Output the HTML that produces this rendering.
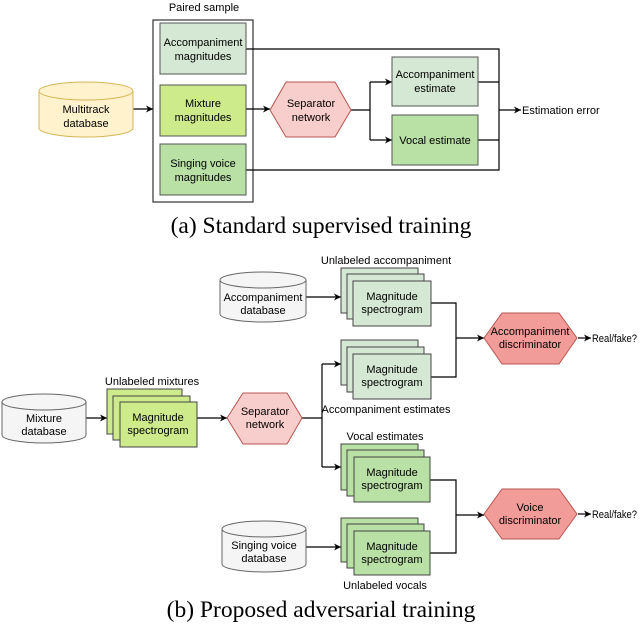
<!DOCTYPE html>
<html><head><meta charset="utf-8"><style>
html,body{margin:0;padding:0;background:#fff}
svg{display:block}
text{font-family:"Liberation Sans",Arial,sans-serif;font-size:11px;fill:#000}
.cap{font-family:"Liberation Serif",serif;font-size:23.5px}
</style></head><body>
<svg width="640" height="627" viewBox="0 0 640 627" xmlns="http://www.w3.org/2000/svg">
<defs>
<marker id="a" markerWidth="8" markerHeight="8" refX="7" refY="4" orient="auto" markerUnits="userSpaceOnUse">
<path d="M0,0.5 L7,4 L0,7.5 L2,4 Z" fill="#000"/></marker>
</defs>
<g stroke="#000" stroke-width="1.2" fill="none">
<!-- (a) -->
<rect x="153" y="20" width="100" height="182" stroke="#333"/>
<line x1="133" y1="109" x2="153" y2="109" marker-end="url(#a)"/>
<line x1="246" y1="109" x2="270" y2="109" marker-end="url(#a)"/>
<polyline points="351,110 370,110"/>
<polyline points="370,82 370,140"/>
<line x1="370" y1="82" x2="392" y2="82" marker-end="url(#a)"/>
<line x1="370" y1="140" x2="392" y2="140" marker-end="url(#a)"/>
<polyline points="246,49 499,49 499,170 246,170"/>
<line x1="478" y1="82" x2="499" y2="82"/>
<line x1="478" y1="140" x2="499" y2="140"/>
<line x1="499" y1="110" x2="521" y2="110" marker-end="url(#a)"/>
<!-- (b) -->
<line x1="306" y1="297" x2="341" y2="297" marker-end="url(#a)"/>
<polyline points="431,303 456,303 456,377 431,377"/>
<line x1="456" y1="338" x2="484" y2="338" marker-end="url(#a)"/>
<line x1="578" y1="338" x2="591" y2="338" marker-end="url(#a)"/>
<line x1="86" y1="418" x2="107" y2="418" marker-end="url(#a)"/>
<line x1="197" y1="418" x2="227" y2="418" marker-end="url(#a)"/>
<polyline points="302,418 322,418"/>
<polyline points="322,364 322,467"/>
<line x1="322" y1="364" x2="341" y2="364" marker-end="url(#a)"/>
<line x1="322" y1="467" x2="341" y2="467" marker-end="url(#a)"/>
<polyline points="430,480 456,480 456,553 430,553"/>
<line x1="456" y1="515" x2="484" y2="515" marker-end="url(#a)"/>
<line x1="578" y1="514" x2="591" y2="514" marker-end="url(#a)"/>
<line x1="306" y1="547" x2="341" y2="547" marker-end="url(#a)"/>
</g>
<!-- (a) shapes -->
<text x="204" y="11" text-anchor="middle">Paired sample</text>
<rect x="160" y="23" width="86" height="51" fill="#d5e8d4" stroke="#555"/>
<text x="203" y="46" text-anchor="middle" font-size="11.5">Accompaniment</text>
<text x="203" y="60" text-anchor="middle" font-size="11.5">magnitudes</text>
<rect x="160" y="85" width="86" height="51" fill="#cdeb8b" stroke="#555"/>
<text x="203" y="107" text-anchor="middle" font-size="11.5">Mixture</text>
<text x="203" y="121" text-anchor="middle" font-size="11.5">magnitudes</text>
<rect x="160" y="144" width="86" height="51" fill="#b9e0a5" stroke="#555"/>
<text x="203" y="167" text-anchor="middle" font-size="11.5">Singing voice</text>
<text x="203" y="181" text-anchor="middle" font-size="11.5">magnitudes</text>
<path d="M39,91 L39,128 A47,9 0 0 0 133,128 L133,91 A47,9 0 0 0 39,91 A47,9 0 0 0 133,91" fill="#fff2cc" stroke="#d6b656"/>
<text x="86" y="113" text-anchor="middle" font-size="11.5">Multitrack</text>
<text x="86" y="127" text-anchor="middle" font-size="11.5">database</text>
<polygon points="286,82 335,82 351,110 335,137 286,137 270,110" fill="#f8cecc" stroke="#b85450" stroke-linejoin="round"/>
<text x="311" y="107" text-anchor="middle" font-size="11.5">Separator</text>
<text x="311" y="121" text-anchor="middle" font-size="11.5">network</text>
<rect x="392" y="57" width="86" height="49" fill="#d5e8d4" stroke="#555"/>
<text x="435" y="78" text-anchor="middle" font-size="11.5">Accompaniment</text>
<text x="435" y="92" text-anchor="middle" font-size="11.5">estimate</text>
<rect x="392" y="115" width="86" height="50" fill="#b9e0a5" stroke="#555"/>
<text x="435" y="144" text-anchor="middle" font-size="11.5">Vocal estimate</text>
<text x="522" y="114" font-size="11.5">Estimation error</text>
<text class="cap" x="321" y="233" text-anchor="middle">(a) Standard supervised training</text>
<!-- (b) -->
<text x="386" y="264" text-anchor="middle" font-size="10">Unlabeled accompaniment</text>
<path d="M220,280 L220,314 A43,8 0 0 0 306,314 L306,280 A43,8 0 0 0 220,280 A43,8 0 0 0 306,280" fill="#f5f5f5" stroke="#666"/>
<text x="263" y="301" text-anchor="middle" font-size="10">Accompaniment</text>
<text x="263" y="314" text-anchor="middle" font-size="10">database</text>
<g fill="#d5e8d4" stroke="#444">
<rect x="341" y="268" width="77" height="45"/><rect x="347" y="274" width="77" height="45"/><rect x="353" y="281" width="78" height="45"/>
<rect x="341" y="340" width="77" height="45"/><rect x="347" y="347" width="77" height="45"/><rect x="353" y="354" width="78" height="45"/>
</g>
<g fill="#b9e0a5" stroke="#444">
<rect x="341" y="444" width="77" height="46"/><rect x="347" y="450" width="77" height="46"/><rect x="354" y="457" width="76" height="45"/>
<rect x="341" y="518" width="77" height="44"/><rect x="347" y="524" width="77" height="44"/><rect x="354" y="531" width="76" height="44"/>
</g>
<g fill="#cdeb8b" stroke="#444">
<rect x="107" y="389" width="75" height="45"/><rect x="113" y="396" width="77" height="44"/><rect x="120" y="402" width="77" height="45"/>
</g>
<g font-size="10" text-anchor="middle">
<text x="392" y="300">Magnitude</text><text x="392" y="313">spectrogram</text>
<text x="392" y="373">Magnitude</text><text x="392" y="386">spectrogram</text>
<text x="392" y="476">Magnitude</text><text x="392" y="489">spectrogram</text>
<text x="392" y="550">Magnitude</text><text x="392" y="563">spectrogram</text>
<text x="158" y="421">Magnitude</text><text x="158" y="434">spectrogram</text>
<text x="386" y="413">Accompaniment estimates</text>
<text x="385" y="440">Vocal estimates</text>
<text x="385" y="589">Unlabeled vocals</text>
<text x="152" y="385">Unlabeled mixtures</text>
</g>
<path d="M2,402 L2,435 A42,8 0 0 0 86,435 L86,402 A42,8 0 0 0 2,402 A42,8 0 0 0 86,402" fill="#f5f5f5" stroke="#666"/>
<text x="44" y="422" text-anchor="middle" font-size="10">Mixture</text>
<text x="44" y="435" text-anchor="middle" font-size="10">database</text>
<path d="M222,529 L222,564 A42,8 0 0 0 306,564 L306,529 A42,8 0 0 0 222,529 A42,8 0 0 0 306,529" fill="#f5f5f5" stroke="#666"/>
<text x="264" y="549" text-anchor="middle" font-size="10">Singing voice</text>
<text x="264" y="562" text-anchor="middle" font-size="10">database</text>
<polygon points="243,393 287,393 302,418 287,444 243,444 227,418" fill="#f8cecc" stroke="#b85450" stroke-linejoin="round"/>
<text x="265" y="415" text-anchor="middle" font-size="10">Separator</text>
<text x="265" y="428" text-anchor="middle" font-size="10">network</text>
<polygon points="502,313 559,313 577,338 559,364 502,364 484,338" fill="#f19c99" stroke="#b85450" stroke-linejoin="round"/>
<text x="530" y="335" text-anchor="middle" font-size="10">Accompaniment</text>
<text x="530" y="348" text-anchor="middle" font-size="10">discriminator</text>
<polygon points="502,489 559,489 577,514 559,539 502,539 484,514" fill="#f19c99" stroke="#b85450" stroke-linejoin="round"/>
<text x="530" y="511" text-anchor="middle" font-size="10">Voice</text>
<text x="530" y="524" text-anchor="middle" font-size="10">discriminator</text>
<text x="592" y="342" font-size="9.5" textLength="45" lengthAdjust="spacingAndGlyphs">Real/fake?</text>
<text x="592" y="518" font-size="9.5" textLength="45" lengthAdjust="spacingAndGlyphs">Real/fake?</text>
<text class="cap" x="321" y="617" text-anchor="middle">(b) Proposed adversarial training</text>
</svg>
</body></html>
